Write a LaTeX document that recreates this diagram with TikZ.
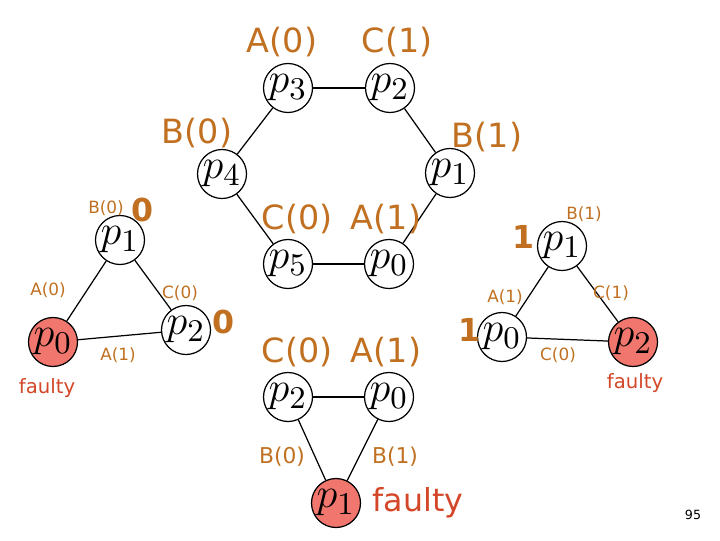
\documentclass[tikz,border=0pt]{standalone}
\usepackage{fontspec}
\setmainfont{DejaVu Sans}
\definecolor{lblcol}{RGB}{192,112,32}
\definecolor{badcol}{RGB}{212,70,40}
\definecolor{badfill}{RGB}{240,118,110}
\begin{document}
\begin{tikzpicture}[line width=0.35pt,
    proc/.style={draw, circle, minimum size=0.49cm, inner sep=-3pt, font=\fontsize{13}{15}\selectfont},
    bad/.style={proc, fill=badfill},
    biglbl/.style={text=lblcol, inner sep=0pt, font=\fontsize{9.5}{11}\selectfont},
    smalllbl/.style={text=lblcol, inner sep=0pt, font=\fontsize{4.8}{6}\selectfont},
    val/.style={text=lblcol, inner sep=0pt, font=\fontsize{9}{11}\selectfont\bfseries},
    badlbl/.style={text=badcol, inner sep=0pt}]
    \useasboundingbox (0,0) rectangle (7.2,-5.4);

    % hexagon
    \node[proc] (h3) at (2.88, -0.88) {$p_3$};
    \node[proc] (h2) at (3.90, -0.88) {$p_2$};
    \node[proc] (h1) at (4.50, -1.73) {$p_1$};
    \node[proc] (h0) at (3.89, -2.64) {$p_0$};
    \node[proc] (h5) at (2.88, -2.64) {$p_5$};
    \node[proc] (h4) at (2.22, -1.74) {$p_4$};
    \draw (h3) -- (h2);
    \draw (h2) -- (h1);
    \draw (h1) -- (h0);
    \draw (h0) -- (h5);
    \draw (h5) -- (h4);
    \draw (h4) -- (h3);
    \node[biglbl] (h3l) at (2.82, -0.42) {A(0)};
    \node[biglbl] (h2l) at (3.97, -0.42) {C(1)};
    \node[biglbl] (h4l) at (1.97, -1.33) {B(0)};
    \node[biglbl] (h1l) at (4.87, -1.37) {B(1)};
    \node[biglbl] (h5l) at (2.97, -2.19) {C(0)};
    \node[biglbl] (h0l) at (3.86, -2.19) {A(1)};

    % left triangle
    \node[proc] (l1) at (1.20, -2.40) {$p_1$};
    \node[bad] (l0) at (0.53, -3.42) {$p_0$};
    \node[proc] (l2) at (1.86, -3.30) {$p_2$};
    \draw (l1) -- (l0);
    \draw (l1) -- (l2);
    \draw (l0) -- (l2);
    \node[smalllbl] (l1l) at (1.06, -2.08) {B(0)};
    \node[val] (l1v) at (1.43, -2.10) {0};
    \node[smalllbl] (l01) at (0.48, -2.90) {A(0)};
    \node[smalllbl] (l12) at (1.80, -2.93) {C(0)};
    \node[val] (l2v) at (2.23, -3.22) {0};
    \node[smalllbl] (l02) at (1.18, -3.55) {A(1)};
    \node[badlbl, font=\fontsize{5.6}{7}\selectfont] (lbad) at (0.47, -3.88) {faulty};

    % right triangle
    \node[proc] (r1) at (5.62, -2.46) {$p_1$};
    \node[proc] (r0) at (5.02, -3.37) {$p_0$};
    \node[bad] (r2) at (6.33, -3.42) {$p_2$};
    \draw (r1) -- (r0);
    \draw (r1) -- (r2);
    \draw (r0) -- (r2);
    \node[smalllbl] (r1l) at (5.84, -2.14) {B(1)};
    \node[val] (r1v) at (5.23, -2.37) {1};
    \node[smalllbl] (r01) at (5.05, -2.97) {A(1)};
    \node[smalllbl] (r12) at (6.11, -2.93) {C(1)};
    \node[val] (r0v) at (4.69, -3.30) {1};
    \node[smalllbl] (r02) at (5.58, -3.55) {C(0)};
    \node[badlbl, font=\fontsize{5.6}{7}\selectfont] (rbad) at (6.35, -3.83) {faulty};

    % bottom triangle
    \node[proc] (b2) at (2.88, -3.97) {$p_2$};
    \node[proc] (b0) at (3.89, -3.97) {$p_0$};
    \node[bad] (b1) at (3.36, -5.03) {$p_1$};
    \draw (b2) -- (b0);
    \draw (b2) -- (b1);
    \draw (b0) -- (b1);
    \node[biglbl] (b2l) at (2.97, -3.52) {C(0)};
    \node[biglbl] (b0l) at (3.86, -3.52) {A(1)};
    \node[text=lblcol, inner sep=0pt, font=\fontsize{6.2}{8}\selectfont] (b21) at (2.82, -4.57) {B(0)};
    \node[text=lblcol, inner sep=0pt, font=\fontsize{6.2}{8}\selectfont] (b01) at (3.95, -4.57) {B(1)};
    \node[badlbl, font=\fontsize{9}{11}\selectfont, anchor=west] (bbad) at (3.72, -5.03) {faulty};

    % page number
    \node[inner sep=0pt, font=\fontsize{3.6}{4}\selectfont] (pg) at (6.93, -5.15) {95};
\end{tikzpicture}
\end{document}
